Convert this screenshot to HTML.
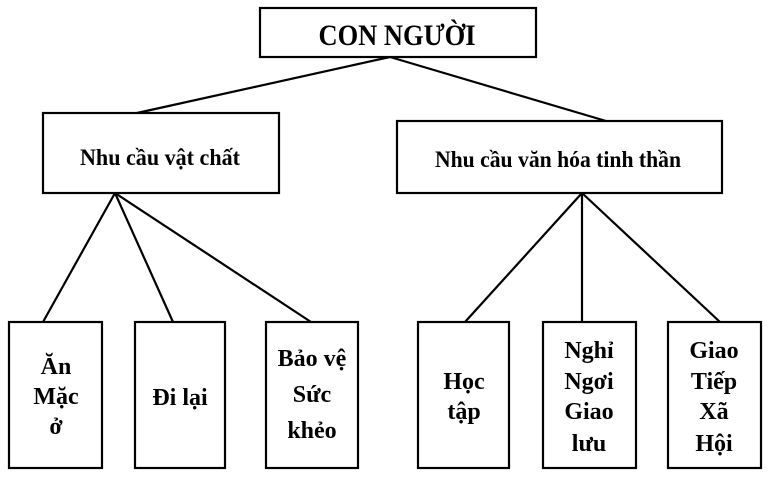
<!DOCTYPE html>
<html><head><meta charset="utf-8"><style>
html,body{margin:0;padding:0;background:#fff;}
svg{display:block;}
text{font-family:"Liberation Serif","DejaVu Serif",serif;font-weight:bold;fill:#000;text-anchor:middle;}
</style></head><body>
<svg width="768" height="480" viewBox="0 0 768 480" xmlns="http://www.w3.org/2000/svg">
<g stroke="#000" stroke-width="2.2" fill="none">
<line x1="390" y1="57" x2="137" y2="113"/>
<line x1="390" y1="57" x2="606" y2="121"/>
<line x1="115" y1="193" x2="43" y2="322"/>
<line x1="115" y1="193" x2="173" y2="322"/>
<line x1="115" y1="193" x2="311" y2="322"/>
<line x1="582" y1="193" x2="465" y2="322"/>
<line x1="582" y1="193" x2="582" y2="322"/>
<line x1="582" y1="193" x2="720" y2="322"/>
<rect x="260" y="8" width="276" height="49" fill="#fff"/>
<rect x="43" y="113" width="236" height="80" fill="#fff"/>
<rect x="397" y="121" width="325" height="72" fill="#fff"/>
<rect x="9" y="322" width="93" height="146" fill="#fff"/>
<rect x="135" y="322" width="90" height="146" fill="#fff"/>
<rect x="266" y="322" width="92" height="146" fill="#fff"/>
<rect x="418" y="322" width="91" height="146" fill="#fff"/>
<rect x="543" y="322" width="93" height="146" fill="#fff"/>
<rect x="668" y="322" width="93" height="146" fill="#fff"/>
</g>
<text x="397" y="45" font-size="30" textLength="157" lengthAdjust="spacingAndGlyphs">CON NGƯỜI</text>
<text x="160" y="165" font-size="23" textLength="160" lengthAdjust="spacingAndGlyphs">Nhu  cầu vật chất</text>
<text x="558" y="167" font-size="23" textLength="246" lengthAdjust="spacingAndGlyphs">Nhu  cầu văn hóa tinh  thần</text>
<g font-size="24">
<text x="56" y="374">Ăn</text><text x="56" y="404">Mặc</text><text x="56" y="434">ở</text>
<text x="180" y="405">Đi lại</text>
<text x="312" y="366">Bảo vệ</text><text x="312" y="402">Sức</text><text x="312" y="438">khẻo</text>
<text x="464" y="389">Học</text><text x="464" y="419">tập</text>
<text x="589" y="358">Nghỉ</text><text x="589" y="389">Ngơi</text><text x="589" y="419">Giao</text><text x="589" y="451">lưu</text>
<text x="714" y="358">Giao</text><text x="714" y="389">Tiếp</text><text x="714" y="419">Xã</text><text x="714" y="451">Hội</text>
</g>
</svg>
</body></html>
